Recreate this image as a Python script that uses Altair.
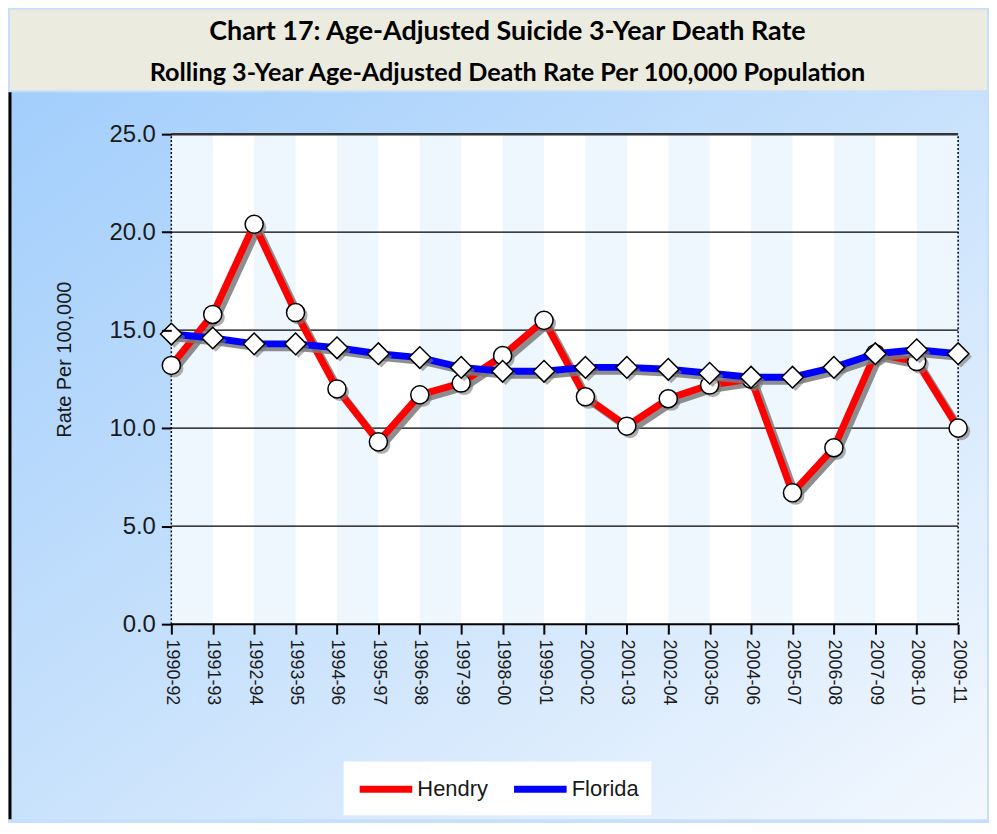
import altair as alt
import pandas as pd

periods = ["1990-92", "1991-93", "1992-94", "1993-95", "1994-96", "1995-97",
           "1996-98", "1997-99", "1998-00", "1999-01", "2000-02", "2001-03",
           "2002-04", "2003-05", "2004-06", "2005-07", "2006-08", "2007-09",
           "2008-10", "2009-11"]
hendry = [13.2, 15.8, 20.4, 15.9, 12.0, 9.3, 11.7, 12.3, 13.7, 15.5,
          11.6, 10.1, 11.5, 12.2, 12.5, 6.7, 9.0, 13.8, 13.4, 10.0]
florida = [14.8, 14.6, 14.3, 14.3, 14.1, 13.8, 13.6, 13.1, 12.9, 12.9,
           13.1, 13.1, 13.0, 12.8, 12.6, 12.6, 13.1, 13.8, 14.0, 13.8]
series_names = ["Hendry", "Florida"]
series_colors = ["#ff0000", "#0000ff"]
y_ticks = [0, 5, 10, 15, 20, 25]
grid_values = [5, 10, 15, 20]
title_lines = ["Chart 17: Age-Adjusted Suicide 3-Year Death Rate",
               "Rolling 3-Year Age-Adjusted Death Rate Per 100,000 Population"]

df = pd.DataFrame({
    "period": periods * 2,
    "series": ["Hendry"] * len(periods) + ["Florida"] * len(periods),
    "value": hendry + florida,
})
stripes = pd.DataFrame({
    "start": [periods[i] for i in range(0, len(periods) - 1, 2)],
    "end": [periods[i + 1] for i in range(0, len(periods) - 1, 2)],
})
grid_df = pd.DataFrame({"g": grid_values})
single = pd.DataFrame({"k": [0]})
title_df = pd.DataFrame({"line": ["1", "2"], "text": title_lines})

FONT = "Liberation Sans"
TOTAL_W, VIEW_H = 981, 730
PLOT_LEFT, PLOT_RIGHT = 162, 952   # plot area inside the full-size view
PLOT_TOP, PLOT_BOTTOM = 42, 534

xscale = alt.Scale(type="point", domain=periods, padding=0,
                   range=[PLOT_LEFT, PLOT_RIGHT])
yscale = alt.Scale(domain=[0, 25], nice=False, zero=True,
                   range=[PLOT_BOTTOM, PLOT_TOP])

x_enc = alt.X("period:N", scale=xscale, title=None,
              axis=alt.Axis(labelAngle=90, labelAlign="left", labelBaseline="middle",
                            labelFontSize=18, labelFont=FONT,
                            labelColor="#1a1a1a", tickSize=10, tickWidth=2,
                            tickColor="black", domain=False, zindex=1,
                            offset=-(VIEW_H - PLOT_BOTTOM),
                            labelPadding=5, grid=False))
y_enc = alt.Y("value:Q", scale=yscale,
              axis=alt.Axis(values=y_ticks, format=".1f", labelFontSize=24,
                            labelFont=FONT, labelColor="#1a1a1a",
                            tickSize=10, tickWidth=2, tickColor="black",
                            grid=False, offset=-PLOT_LEFT, domain=False,
                            labelPadding=6, zindex=1,
                            title="Rate Per 100,000",
                            titleFont=FONT, titleFontSize=20,
                            titleFontWeight="normal", titleColor="#1a1a1a",
                            titleAngle=270, titleBaseline="alphabetic",
                            titleAlign="center", titleX=-101,
                            titleY=PLOT_TOP + 226))

base = alt.Chart(df)

# full-view gradient background; the dash pattern strokes only its left edge
edge_gap = 2 * TOTAL_W + VIEW_H
gradient_bg = alt.Chart(single).mark_rect(
    fill=alt.Gradient(gradient="linear",
                      stops=[alt.GradientStop(color="#a2cefc", offset=0),
                             alt.GradientStop(color="#c9e2fc", offset=0.5),
                             alt.GradientStop(color="#f3f8fe", offset=1)],
                      x1=0, y1=0, x2=1, y2=1),
    stroke="black", strokeWidth=3, strokeDash=[0, edge_gap, VIEW_H, 0],
).encode(opacity=alt.value(1))
plot_bg = alt.Chart(single).mark_rect(color="white").encode(
    x=alt.datum(periods[0], scale=xscale), x2=alt.datum(periods[-1]),
    y=alt.datum(0, scale=yscale), y2=alt.datum(25))
stripe_layer = alt.Chart(stripes).mark_rect(color="#eef6fe").encode(
    x=alt.X("start:N", scale=xscale),
    x2="end:N",
    y=alt.datum(0, scale=yscale),
    y2=alt.datum(25),
)
grid_layer = alt.Chart(grid_df).mark_rule(color="black", strokeWidth=1.2).encode(
    y=alt.Y("g:Q", scale=yscale),
    x=alt.datum(periods[0], scale=xscale), x2=alt.datum(periods[-1]))
top_rule = alt.Chart(single).mark_rule(color="#333333", strokeWidth=2.5).encode(
    y=alt.datum(25, scale=yscale),
    x=alt.datum(periods[0], scale=xscale), x2=alt.datum(periods[-1]))
bottom_rule = alt.Chart(single).mark_rule(color="black", strokeWidth=2).encode(
    y=alt.datum(0, scale=yscale),
    x=alt.datum(periods[0], scale=xscale), x2=alt.datum(periods[-1]))
left_rule = alt.Chart(single).mark_rule(color="black", strokeWidth=1.5,
                                         strokeDash=[2, 2]).encode(
    x=alt.datum(periods[0], scale=xscale),
    y=alt.datum(0, scale=yscale), y2=alt.datum(25))
right_rule = alt.Chart(single).mark_rule(color="black", strokeWidth=1.5,
                                          strokeDash=[2, 2]).encode(
    x=alt.datum(periods[-1], scale=xscale),
    y=alt.datum(0, scale=yscale), y2=alt.datum(25))

layers = [gradient_bg, plot_bg, stripe_layer, grid_layer, top_rule,
          left_rule, right_rule, bottom_rule]
shapes = {"Hendry": "circle", "Florida": "diamond"}
sizes = {"Hendry": 330, "Florida": 470}
for name in series_names:
    sub = base.transform_filter(alt.datum.series == name)
    layers.append(sub.mark_line(color="#7a7a7a", strokeWidth=7, opacity=0.85,
                                xOffset=4, yOffset=4).encode(x=x_enc, y=y_enc))
    layers.append(sub.mark_line(strokeWidth=7).encode(
        x=x_enc, y=y_enc,
        color=alt.Color("series:N",
                        scale=alt.Scale(domain=series_names, range=series_colors),
                        legend=alt.Legend(orient="none", legendX=335, legendY=755,
                                          direction="horizontal", title=None,
                                          symbolType="M-2.2,0L2.2,0",
                                          symbolStrokeWidth=7, symbolSize=576,
                                          symbolOffset=15, labelOffset=16,
                                          labelFontSize=22,
                                          labelFont=FONT, labelColor="#1a1a1a",
                                          columnPadding=12,
                                          fillColor="white", padding=12))))
    layers.append(sub.mark_point(shape=shapes[name], filled=True, color="#7a7a7a",
                                 opacity=0.6, size=sizes[name],
                                 xOffset=3, yOffset=3).encode(x=x_enc, y=y_enc))
    layers.append(sub.mark_point(shape=shapes[name], filled=True, fill="white",
                                 stroke="black", strokeWidth=1.5, opacity=1,
                                 size=sizes[name]).encode(x=x_enc, y=y_enc))

main = alt.layer(*layers).properties(
    width=TOTAL_W, height=VIEW_H,
    view=alt.ViewBackground(stroke=None),
)

header = alt.Chart(title_df).mark_text(
    font="Lato", fontWeight="bold", color="black", baseline="middle", dx=9
).encode(
    y=alt.Y("line:N", axis=None,
            scale=alt.Scale(domain=["1", "2"], range=[22, 64], padding=0)),
    text="text:N",
    size=alt.condition(alt.datum.line == "1", alt.value(27), alt.value(25.3)),
).properties(width=TOTAL_W, height=81,
             view=alt.ViewBackground(fill="#ecebe0", stroke=None))

chart = alt.vconcat(header, main, spacing=0).properties(
    background="#c6e0fb",
    padding={"left": 0, "top": 0, "right": 0, "bottom": 0},
)

chart.save("out.html", embed_options={"renderer": "svg", "actions": False})
